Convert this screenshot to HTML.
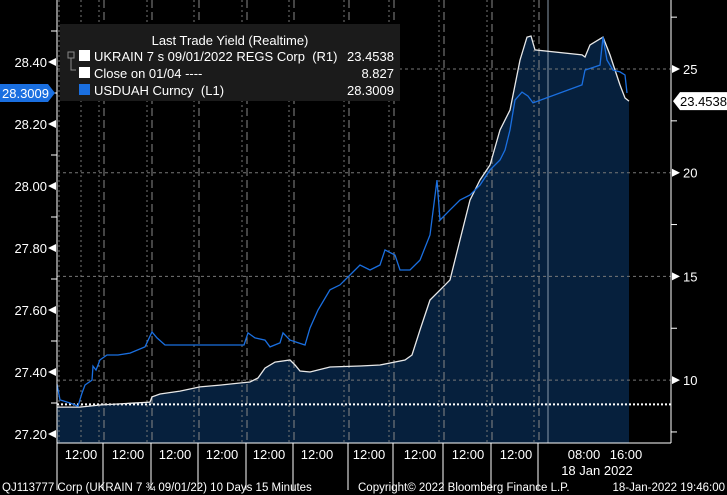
<!DOCTYPE html>
<html><head><meta charset="utf-8"><style>
body{margin:0;background:#000;width:727px;height:495px;overflow:hidden;font-family:"Liberation Sans",sans-serif}
svg{display:block}
text{font-family:"Liberation Sans",sans-serif}
</style></head><body>
<svg id="c" width="727" height="495"></svg>
<script>
const whiteT=[0,23,43,93,95,103,123,143,163,183,193,201,208,218,233,238,243,253,273,303,323,348,355,363,373,383,393,403,413,423,433,443,453,463,470,474,478,525,528,533,546,553,558,563,568,572];
const whiteV=[8.70,8.70,8.80,8.94,9.19,9.33,9.47,9.67,9.76,9.86,9.91,10.10,10.58,10.87,10.97,10.73,10.44,10.39,10.63,10.68,10.73,10.97,11.21,12.42,13.86,14.34,14.83,16.76,18.68,19.65,20.37,22.06,23.02,25.43,26.54,26.59,25.92,25.68,25.58,26.16,26.54,25.68,24.95,24.23,23.60,23.45];
const blueT=[0,3,13,21,25,28,35,36,39,43,50,61,73,88,95,100,108,187,191,198,208,213,223,226,233,248,253,261,273,283,293,303,313,323,328,338,343,353,363,373,380,383,393,403,413,423,433,443,448,453,458,465,471,476,525,528,543,546,550,556,563,568,570];
const blueV=[27.361,27.310,27.300,27.290,27.332,27.358,27.374,27.419,27.406,27.439,27.455,27.455,27.461,27.481,27.529,27.510,27.487,27.487,27.526,27.510,27.503,27.481,27.494,27.526,27.503,27.487,27.542,27.600,27.665,27.681,27.713,27.745,27.729,27.745,27.794,27.777,27.729,27.729,27.761,27.842,28.019,27.890,27.923,27.955,27.971,28.003,28.052,28.084,28.116,28.181,28.277,28.303,28.290,28.268,28.326,28.374,28.390,28.481,28.406,28.374,28.368,28.358,28.300];
const leftTicks=[27.2,27.4,27.6,27.8,28.0,28.2,28.4];
const rightTicks=[10,15,20,25];
const closeVal=8.827;
const dayBounds=[46,94,141,189,236,291,336,386,434,481];
const timeLabels=["12:00","12:00","12:00","12:00","12:00","12:00","12:00","12:00","12:00","12:00","08:00","16:00"];
const labelT=[24,71,118,165,212,260,312,363,411,459,527,569];

const NS="http://www.w3.org/2000/svg";
const svg=document.getElementById('c');
const X0=57,X1=671,Y0=0,Y1=443;
const xs=t=>X0+t;
const yl=v=>62+(28.4-v)*310;
const yr=v=>69+(25-v)*20.74;
function el(tag,attrs,parent){const e=document.createElementNS(NS,tag);for(const k in attrs)e.setAttribute(k,attrs[k]);(parent||svg).appendChild(e);return e;}

const bg=el('rect',{x:X0,y:Y0,width:X1-X0,height:Y1,fill:'#000'});



let d='M'+xs(whiteT[0])+','+Y1;
whiteT.forEach((t,i)=>{d+=' L'+xs(t)+','+yr(whiteV[i]).toFixed(1);});
d+=' L'+xs(whiteT[whiteT.length-1])+','+Y1+' Z';
const area=el('path',{d:d,fill:'#06203d'});



dayBounds.forEach(t=>{
  const g1=el('line',{x1:xs(t)-4,x2:xs(t)-4,y1:0,y2:Y1,stroke:'#777','stroke-dasharray':'2,3','stroke-width':1});
  
  
  const g2=el('line',{x1:xs(t)+1,x2:xs(t)+1,y1:0,y2:Y1,stroke:'#888','stroke-dasharray':'8,4','stroke-width':1});
  
  
});
[2,24].forEach(t=>{const g=el('line',{x1:xs(t),x2:xs(t),y1:0,y2:Y1,stroke:'#777','stroke-dasharray':'2,3'});

});
const nowLine=el('line',{x1:548,x2:548,y1:0,y2:Y1,stroke:'#8a9aaa','stroke-width':1});


[10,15,20,25].forEach(v=>{const g=el('line',{x1:X0,x2:X1,y1:yr(v),y2:yr(v),stroke:'#777','stroke-dasharray':'3,3'});

});

const cl=el('line',{x1:X0,x2:X1,y1:yr(closeVal),y2:yr(closeVal),stroke:'#fff','stroke-width':2,'stroke-dasharray':'2,2'});



let wp=whiteT.map((t,i)=>xs(t)+','+yr(whiteV[i]).toFixed(1)).join(' ');
const wl=el('polyline',{points:wp,fill:'none',stroke:'#e8e8e8','stroke-width':1.3});


let bp=blueT.map((t,i)=>xs(t)+','+yl(blueV[i]).toFixed(1)).join(' ');
const bl=el('polyline',{points:bp,fill:'none',stroke:'#1a6fe0','stroke-width':1.3});



const la=el('line',{x1:X0,x2:X0,y1:0,y2:Y1,stroke:'#fff'});


const ra=el('line',{x1:X1,x2:X1,y1:0,y2:Y1,stroke:'#fff'});


const ba=el('line',{x1:X0,x2:X1,y1:Y1,y2:Y1,stroke:'#fff'});



leftTicks.forEach(v=>{
  const y=yl(v);
  const p=el('polygon',{points:`${X0-9},${y} ${X0-1},${y-4} ${X0-1},${y+4}`,fill:'#fff'});
  
  
  const m=el('line',{x1:X0-6,x2:X0,y1:y-31,y2:y-31,stroke:'#fff'});
  
  
  const tx=el('text',{x:X0-10,y:y+5,fill:'#fff','font-size':13,'text-anchor':'end'});
  tx.textContent=v.toFixed(2);
  
  
});
rightTicks.concat([5]).forEach(v=>{const m=el('line',{x1:X1,x2:X1+6,y1:yr(v+2.5),y2:yr(v+2.5),stroke:'#fff'});

});
rightTicks.forEach(v=>{
  const y=yr(v);
  const p=el('polygon',{points:`${X1+1},${y-4} ${X1+1},${y+4} ${X1+9},${y}`,fill:'#fff'});
  
  
  const tx=el('text',{x:X1+12,y:y+5,fill:'#fff','font-size':13});
  tx.textContent=v;
  
  
});

dayBounds.concat([0]).forEach(t=>{const l=el('line',{x1:xs(t),x2:xs(t),y1:Y1,y2:490,stroke:'#fff'});

});
timeLabels.forEach((s,i)=>{const tx=el('text',{x:xs(labelT[i]),y:459,fill:'#fff','font-size':13,'text-anchor':'middle'});
tx.textContent=s;

});
const dl=el('text',{x:597,y:475,fill:'#fff','font-size':13,'text-anchor':'middle'});
dl.textContent='18 Jan 2022';



const lf=el('g',{});


const ly=yl(blueV[blueV.length-1]);
el('polygon',{points:`0,${ly-9} 48,${ly-9} 55,${ly} 48,${ly+9} 0,${ly+9}`,fill:'#1a6fe0'},lf);
const lft=el('text',{x:2,y:ly+5,fill:'#fff','font-size':13},lf);lft.textContent='28.3009';
const rf=el('g',{});


const ry=yr(whiteV[whiteV.length-1]);
el('polygon',{points:`${X1+2},${ry} ${X1+9},${ry-9} 727,${ry-9} 727,${ry+9} ${X1+9},${ry+9}`,fill:'#fff'},rf);
const rft=el('text',{x:X1+9,y:ry+5,fill:'#000','font-size':13},rf);rft.textContent='23.4538';

const lg=el('g',{});


el('rect',{x:60,y:24,width:340,height:77,fill:'#1b1b1b'},lg);
const t0=el('text',{x:230,y:45,fill:'#fff','font-size':13,'text-anchor':'middle'},lg);t0.textContent='Last Trade Yield (Realtime)';
el('rect',{x:68,y:52,width:6,height:6,fill:'none',stroke:'#888'},lg);
el('path',{d:'M71,58 V70 H76',fill:'none',stroke:'#888'},lg);
const rows=[['#fff','UKRAIN 7 s 09/01/2022 REGS Corp  (R1)','23.4538',61],['#fff','Close on 01/04 ----','8.827',78],['#1a6fe0','USDUAH Curncy  (L1)','28.3009',95]];
rows.forEach(r=>{
  const g=el('g',{},lg);
  
  
  el('rect',{x:79,y:r[3]-11,width:11,height:11,fill:r[0]},g);
  const a=el('text',{x:94,y:r[3],fill:'#fff','font-size':13},g);a.textContent=r[1];a.setAttribute('style','white-space:pre');
  const b=el('text',{x:394,y:r[3],fill:'#fff','font-size':13,'text-anchor':'end'},g);b.textContent=r[2];
});

const f1=el('text',{x:2,y:491,fill:'#fff','font-size':11.5});f1.textContent='QJ113777 Corp (UKRAIN 7 ¾ 09/01/22) 10 Days 15 Minutes';


const f2=el('text',{x:358,y:491,fill:'#fff','font-size':11.5});f2.textContent='Copyright© 2022 Bloomberg Finance L.P.';


const f3=el('text',{x:725,y:491,fill:'#fff','font-size':11.5,'text-anchor':'end'});f3.textContent='18-Jan-2022 19:46:00';


</script>
</body></html>
